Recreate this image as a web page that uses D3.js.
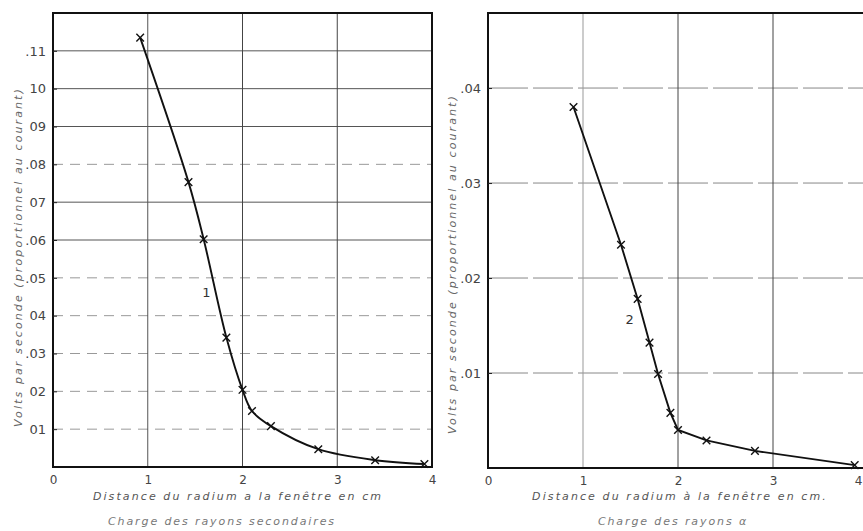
<!DOCTYPE html>
<html>
<head>
<meta charset="utf-8">
<script src="https://cdn.jsdelivr.net/npm/d3@7"></script>
<style>
  body { margin: 0; background: #fff; }
  svg { display: block; }
  text { font-family: "DejaVu Sans", sans-serif; }
</style>
</head>
<body>
<div id="chart"></div>
<script>
// Courbe 1 : rayons secondaires
const distance1 = [0.92, 1.43, 1.59, 1.83, 2.0, 2.1, 2.3, 2.8, 3.4, 3.92];
const volts1 = [0.1135, 0.0753, 0.0602, 0.0342, 0.0204, 0.0148, 0.0108, 0.0047, 0.0018, 0.0008];
const yTicks1 = [0.01, 0.02, 0.03, 0.04, 0.05, 0.06, 0.07, 0.08, 0.09, 0.10, 0.11];
const yTickLabels1 = ["01", "02", ".03", "04", ".05", ".06", "07", ".08", "09", "10", ".11"];

// Courbe 2 : rayons alpha
const distance2 = [0.90, 1.40, 1.575, 1.70, 1.79, 1.92, 2.0, 2.30, 2.81, 3.86];
const volts2 = [0.0380, 0.0235, 0.0178, 0.0132, 0.0099, 0.0058, 0.0040, 0.0029, 0.0018, 0.0003];
const yTicks2 = [0.01, 0.02, 0.03, 0.04];
const yTickLabels2 = [".01", ".02", ".03", ".04"];

const xTicks = [0, 1, 2, 3, 4];

const width = 863, height = 531;

const svg = d3.select("#chart").append("svg")
    .attr("width", width)
    .attr("height", height);

function drawPanel(p) {
    const x = d3.scaleLinear().domain([0, 4]).range([p.left, p.right]);
    const y = d3.scaleLinear().domain([0, p.yMax]).range([p.bottom, p.top]);

    const g = svg.append("g");

    // horizontal grid
    g.selectAll(".hgrid")
        .data(p.yTicks)
        .enter().append("line")
        .attr("x1", p.left).attr("x2", p.right)
        .attr("y1", d => y(d)).attr("y2", d => y(d))
        .attr("stroke", (d, i) => p.gridStyle(d, i).color)
        .attr("stroke-width", 1)
        .attr("stroke-dasharray", (d, i) => p.gridStyle(d, i).dash);

    // vertical grid
    g.selectAll(".vgrid")
        .data([1, 2, 3])
        .enter().append("line")
        .attr("x1", d => x(d)).attr("x2", d => x(d))
        .attr("y1", p.top).attr("y2", p.bottom)
        .attr("stroke", (d) => d === 1 ? p.v1Color : "#444")
        .attr("stroke-width", 1);

    // frame
    g.append("rect")
        .attr("x", p.left).attr("y", p.top)
        .attr("width", p.right - p.left).attr("height", p.bottom - p.top)
        .attr("fill", "none")
        .attr("stroke", "#111")
        .attr("stroke-width", 2);

    // axes
    const yAxis = d3.axisLeft(y)
        .tickValues(p.yTicks)
        .tickFormat((d, i) => p.yTickLabels[i])
        .tickSize(-4)
        .tickPadding(7);
    const ya = g.append("g")
        .attr("transform", `translate(${p.left},0)`)
        .call(yAxis);
    ya.select(".domain").remove();
    ya.selectAll("line").attr("stroke", "#222");
    ya.selectAll("text")
        .attr("font-size", 13)
        .attr("fill", "#444");

    const xAxis = d3.axisBottom(x)
        .tickValues(xTicks)
        .tickFormat(d3.format("d"))
        .tickSize(0)
        .tickPadding(8);
    const xa = g.append("g")
        .attr("transform", `translate(0,${p.bottom})`)
        .call(xAxis);
    xa.select(".domain").remove();
    xa.selectAll("text")
        .attr("font-size", 12)
        .attr("fill", "#444");
    // keep the last label inside the window
    if (p.right > width) {
        xa.selectAll("text").filter(d => d === 4)
            .attr("text-anchor", "end")
            .attr("dx", width - p.right - 1);
    }

    // curve
    const pts = p.xs.map((d, i) => [d, p.ys[i]]);
    const line = d3.line()
        .x(d => x(d[0]))
        .y(d => y(d[1]))
        .curve(p.curve);
    g.append("path")
        .datum(pts)
        .attr("d", line)
        .attr("fill", "none")
        .attr("stroke", "#111")
        .attr("stroke-width", 1.9);

    // cross markers
    const s = 3.8;
    g.selectAll(".mark")
        .data(pts)
        .enter().append("path")
        .attr("d", d => {
            const cx = x(d[0]), cy = y(d[1]);
            return `M${cx - s},${cy - s}L${cx + s},${cy + s}M${cx - s},${cy + s}L${cx + s},${cy - s}`;
        })
        .attr("stroke", "#111")
        .attr("stroke-width", 1.4);

    // curve number
    g.append("text")
        .attr("x", x(p.numPos[0]))
        .attr("y", y(p.numPos[1]))
        .attr("font-size", 13)
        .attr("fill", "#333")
        .attr("text-anchor", "middle")
        .text(p.num);

    // y title
    g.append("text")
        .attr("transform", `translate(${p.yTitleX},${p.yTitleY}) rotate(-90)`)
        .attr("text-anchor", "middle")
        .attr("font-size", 11)
        .attr("font-style", "italic")
        .attr("letter-spacing", 2.1)
        .attr("fill", "#666")
        .text("Volts par seconde (proportionnel au courant)");

    // x titles
    g.append("text")
        .attr("x", p.xTitleX)
        .attr("y", 500)
        .attr("text-anchor", "middle")
        .attr("font-size", 11)
        .attr("font-style", "italic")
        .attr("letter-spacing", 2.1)
        .attr("fill", "#555")
        .text(p.xTitle);

    g.append("text")
        .attr("x", p.subTitleX)
        .attr("y", 525)
        .attr("text-anchor", "middle")
        .attr("font-size", 11)
        .attr("font-style", "italic")
        .attr("letter-spacing", 1.9)
        .attr("fill", "#777")
        .text(p.subTitle);
}

drawPanel({
    left: 53, right: 432, top: 13, bottom: 467, yMax: 0.12,
    xs: distance1, ys: volts1,
    yTicks: yTicks1, yTickLabels: yTickLabels1,
    gridStyle: (d) => d >= 0.055 && Math.abs(d - 0.08) > 0.001
        ? { color: "#555", dash: null }
        : { color: "#999", dash: "10,7" },
    v1Color: "#555",
    curve: d3.curveCatmullRom.alpha(0.5),
    num: "1", numPos: [1.62, 0.045],
    yTitleX: 22, yTitleY: 257,
    xTitle: "Distance du radium a la fenêtre en cm", xTitleX: 238,
    subTitle: "Charge des rayons secondaires", subTitleX: 222
});

drawPanel({
    left: 488, right: 868, top: 13, bottom: 468, yMax: 0.0479,
    xs: distance2, ys: volts2,
    yTicks: yTicks2, yTickLabels: yTickLabels2,
    gridStyle: () => ({ color: "#888", dash: "40,5" }),
    v1Color: "#999",
    curve: d3.curveLinear,
    num: "2", numPos: [1.49, 0.0152],
    yTitleX: 456, yTitleY: 264,
    xTitle: "Distance du radium à la fenêtre en cm.", xTitleX: 680,
    subTitle: "Charge des rayons α", subTitleX: 673
});
</script>
</body>
</html>
